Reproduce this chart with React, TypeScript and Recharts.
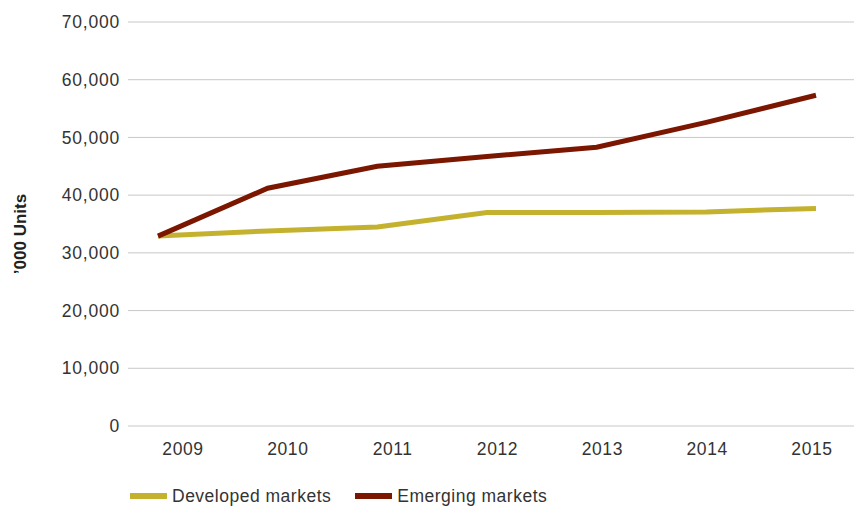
import { LineChart, Line, XAxis, YAxis, CartesianGrid, Legend, Label } from 'recharts';

const years = ['2009', '2010', '2011', '2012', '2013', '2014', '2015'];
const developed = [32900, 33800, 34500, 37000, 37000, 37100, 37700];
const emerging = [32900, 41200, 45000, 46700, 48300, 52600, 57300];
const yTicks = [0, 10000, 20000, 30000, 40000, 50000, 60000, 70000];

const data = years.map((year, i) => ({
  year,
  developed: developed[i],
  emerging: emerging[i],
}));

const FONT = '"Liberation Sans", Arial, sans-serif';
const TEXT = '#333333';

function renderLegend(props: any) {
  const items = props.payload || [];
  return (
    <div style={{ display: 'flex', height: 30, alignItems: 'center', fontFamily: FONT, fontSize: 17.5, letterSpacing: 0.5, color: TEXT }}>
      {items.map((item: any, i: number) => (
        <div key={i} style={{ display: 'flex', alignItems: 'center', marginLeft: i === 0 ? 130 : 24 }}>
          <span style={{ width: 37, height: 6, background: item.color, display: 'inline-block', marginRight: 5 }} />
          <span>{item.value}</span>
        </div>
      ))}
    </div>
  );
}

export default function App() {
  return (
    <div style={{ position: 'absolute', left: 0, top: 0, background: '#fff' }}>
      <LineChart width={854} height={511} data={data} margin={{ top: 22, right: 0, left: 0, bottom: 25 }}>
        <CartesianGrid vertical={false} stroke="#c8c8c8" strokeWidth={1} />
        <XAxis
          xAxisId="labels"
          dataKey="year"
          height={30}
          axisLine={false}
          tickLine={false}
          tickSize={0}
          tickMargin={17}
          padding={{ left: 55, right: 42 }}
          tick={{ fill: TEXT, fontSize: 17.5, fontFamily: FONT, letterSpacing: 0.6 }}
        />
        <XAxis xAxisId="lines" dataKey="year" hide padding={{ left: 30, right: 38 }} />
        <YAxis
          width={128}
          domain={[0, 70000]}
          ticks={yTicks}
          axisLine={false}
          tickLine={false}
          tickSize={0}
          tickMargin={8}
          tickFormatter={(v: number) => v.toLocaleString('en-US')}
          tick={{ fill: TEXT, fontSize: 17.5, fontFamily: FONT, letterSpacing: 0.8 }}
        >
          <Label
            content={(p: any) => {
              const vb = p.viewBox || { x: 0, y: 22, height: 404 };
              const x = vb.x + 20;
              const y = vb.y + vb.height / 2 + 10;
              return (
                <text
                  x={x}
                  y={y}
                  transform={`rotate(-90 ${x} ${y})`}
                  textAnchor="middle"
                  dominantBaseline="central"
                  fontFamily={FONT}
                  fontWeight="bold"
                  fontSize={17}
                  fill="#222"
                >
                  ’000 Units
                </text>
              );
            }}
          />
        </YAxis>
        <Legend content={renderLegend} verticalAlign="bottom" align="left" wrapperStyle={{ left: 0, bottom: 0, width: 854 }} />
        <Line
          xAxisId="lines"
          type="linear"
          dataKey="developed"
          name="Developed markets"
          stroke="#c4b22f"
          strokeWidth={5}
          dot={false}
          isAnimationActive={false}
        />
        <Line
          xAxisId="lines"
          type="linear"
          dataKey="emerging"
          name="Emerging markets"
          stroke="#7b1600"
          strokeWidth={5}
          dot={false}
          isAnimationActive={false}
        />
      </LineChart>
    </div>
  );
}
